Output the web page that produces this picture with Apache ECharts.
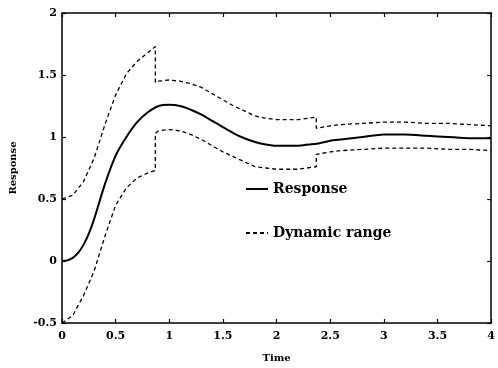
<!DOCTYPE html>
<html>
<head>
<meta charset="utf-8">
<script src="https://cdn.jsdelivr.net/npm/echarts@6/dist/echarts.min.js"></script>
<style>
  html, body { margin: 0; padding: 0; background: #fff; }
  #chart { width: 498px; height: 368px; }
</style>
</head>
<body>
<div id="chart"></div>
<script>
// values
const respT = [0, 0.05, 0.1, 0.15, 0.2, 0.25, 0.3, 0.4, 0.5, 0.6, 0.7, 0.8, 0.9, 1.0, 1.1, 1.2, 1.3, 1.4, 1.5, 1.6, 1.7, 1.8, 1.9, 2.0, 2.1, 2.2, 2.3, 2.4, 2.5, 2.6, 2.8, 3.0, 3.2, 3.4, 3.6, 3.8, 4.0]
const respV = [0, 0.005, 0.025, 0.065, 0.13, 0.22, 0.34, 0.62, 0.85, 1.0, 1.12, 1.2, 1.25, 1.26, 1.25, 1.22, 1.18, 1.13, 1.08, 1.03, 0.99, 0.96, 0.94, 0.93, 0.93, 0.93, 0.94, 0.95, 0.97, 0.98, 1.0, 1.02, 1.02, 1.01, 1.0, 0.99, 0.99]

const bandT = [0, 0.1, 0.2, 0.3, 0.4, 0.5, 0.6, 0.7, 0.8, 0.87, 0.87, 0.9, 1.0, 1.1, 1.2, 1.3, 1.4, 1.5, 1.6, 1.7, 1.8, 1.9, 2.0, 2.1, 2.2, 2.37, 2.37, 2.5, 2.6, 2.8, 3.0, 3.2, 3.4, 3.6, 3.8, 4.0]
const upperV = [0.5, 0.53, 0.64, 0.83, 1.1, 1.34, 1.51, 1.61, 1.68, 1.73, 1.44, 1.45, 1.46, 1.45, 1.43, 1.4, 1.35, 1.3, 1.25, 1.21, 1.17, 1.15, 1.14, 1.14, 1.14, 1.16, 1.07, 1.09, 1.1, 1.11, 1.12, 1.12, 1.11, 1.11, 1.1, 1.09]
const lowerV = [-0.5, -0.44, -0.28, -0.08, 0.2, 0.45, 0.59, 0.67, 0.71, 0.73, 1.03, 1.05, 1.06, 1.05, 1.02, 0.98, 0.93, 0.88, 0.84, 0.8, 0.76, 0.75, 0.74, 0.74, 0.74, 0.76, 0.86, 0.88, 0.89, 0.9, 0.91, 0.91, 0.91, 0.9, 0.9, 0.89]

const xTicks = ['0', '0.5', '1', '1.5', '2', '2.5', '3', '3.5', '4']
const yTicks = ['-0.5', '0', '0.5', '1', '1.5', '2']

const serif = '"DejaVu Serif", "Liberation Serif", serif'

function pairs(ts, vs) {
  return ts.map((t, i) => [t, vs[i]])
}

const chart = echarts.init(document.getElementById('chart'))

const tickLabel = {
  fontFamily: serif,
  fontWeight: 'bold',
  fontSize: 11,
  color: '#000'
}
const axisLine = { show: true, onZero: false, lineStyle: { color: '#000', width: 1.5 } }
const axisTick = { show: true, inside: true, length: 4, lineStyle: { color: '#000', width: 1.2 } }

const option = {
  animation: false,
  backgroundColor: '#fff',
  grid: { left: 58, right: 2, top: 13, bottom: 44 },
  legend: {
    orient: 'vertical',
    left: 240,
    top: 177,
    itemGap: 30,
    itemWidth: 22,
    itemHeight: 10,
    itemStyle: { opacity: 0 },
    textStyle: { fontFamily: serif, fontWeight: 'bold', fontSize: 14, color: '#000' },
    data: ['Response', 'Dynamic range']
  },
  xAxis: [
    {
      type: 'value',
      min: 0,
      max: 4,
      interval: 0.5,
      name: 'Time',
      nameLocation: 'center',
      nameGap: 30,
      nameTextStyle: { fontFamily: serif, fontWeight: 'bold', fontSize: 10, color: '#000' },
      axisLine: axisLine,
      axisTick: axisTick,
      splitLine: { show: false },
      axisLabel: Object.assign({ margin: 8, formatter: v => xTicks[Math.round(v / 0.5)] }, tickLabel)
    },
    {
      type: 'value',
      position: 'top',
      min: 0,
      max: 4,
      interval: 0.5,
      axisLine: axisLine,
      axisTick: axisTick,
      splitLine: { show: false },
      axisLabel: { show: false }
    }
  ],
  yAxis: [
    {
      type: 'value',
      min: -0.5,
      max: 2,
      interval: 0.5,
      name: 'Response',
      nameLocation: 'center',
      nameGap: 44,
      nameTextStyle: { fontFamily: serif, fontWeight: 'bold', fontSize: 10, color: '#000' },
      axisLine: axisLine,
      axisTick: axisTick,
      splitLine: { show: false },
      axisLabel: Object.assign({ margin: 5, formatter: v => yTicks[Math.round((v + 0.5) / 0.5)] }, tickLabel)
    },
    {
      type: 'value',
      position: 'right',
      min: -0.5,
      max: 2,
      interval: 0.5,
      axisLine: axisLine,
      axisTick: axisTick,
      splitLine: { show: false },
      axisLabel: { show: false }
    }
  ],
  series: [
    {
      name: 'Response',
      type: 'line',
      showSymbol: false,
      symbol: 'none',
      smooth: 0.2,
      lineStyle: { color: '#000', width: 2 },
      itemStyle: { color: '#000' },
      data: pairs(respT, respV)
    },
    {
      name: 'Dynamic range',
      type: 'line',
      showSymbol: false,
      symbol: 'none',
      lineStyle: { color: '#000', width: 1.3, type: [4, 3] },
      itemStyle: { color: '#000' },
      data: pairs(bandT, upperV)
    },
    {
      name: 'Dynamic range',
      type: 'line',
      showSymbol: false,
      symbol: 'none',
      lineStyle: { color: '#000', width: 1.3, type: [4, 3] },
      itemStyle: { color: '#000' },
      data: pairs(bandT, lowerV)
    }
  ]
}

chart.setOption(option)
</script>
</body>
</html>
